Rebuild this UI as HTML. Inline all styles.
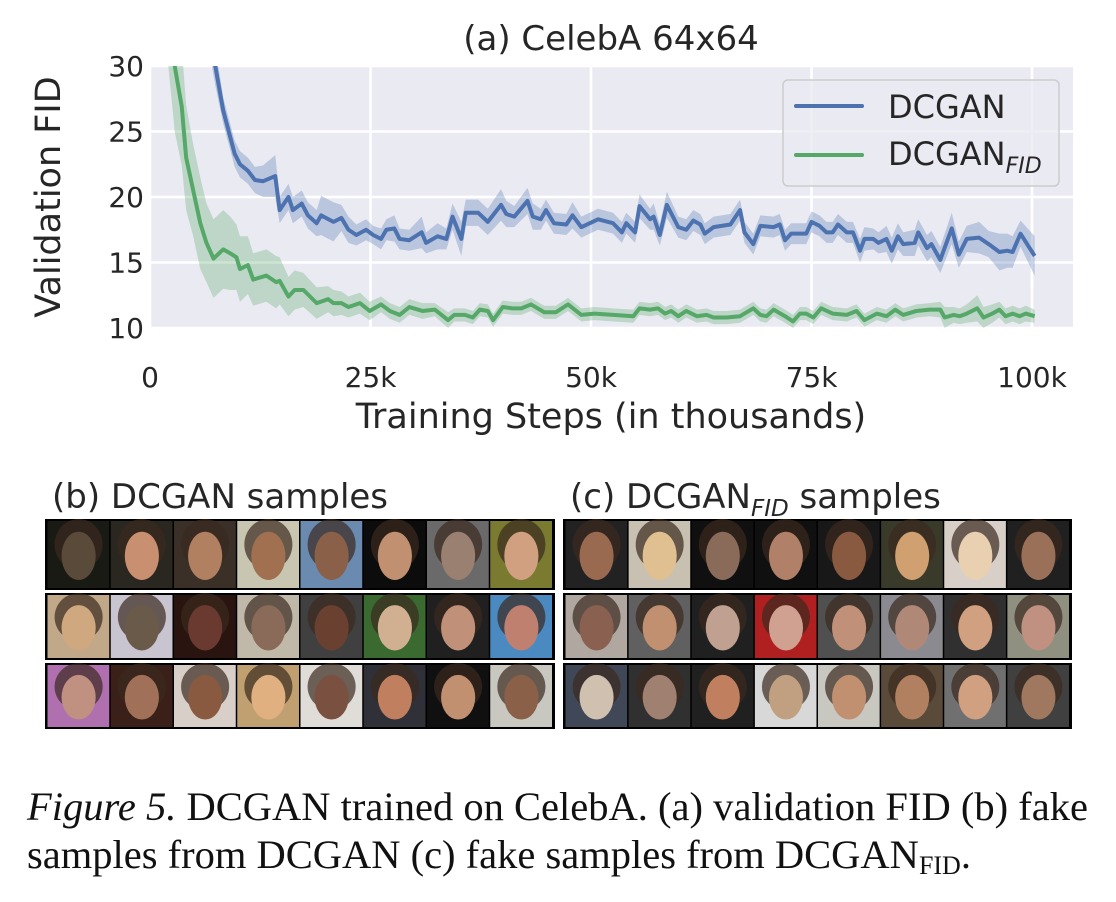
<!DOCTYPE html>
<html><head><meta charset="utf-8"><style>
body{margin:0;background:#fff;}
svg{display:block;font-family:"DejaVu Sans","Liberation Sans",sans-serif;}
</style></head><body>
<svg id="fig" width="1116" height="902" viewBox="0 0 1116 902">
<defs><clipPath id="pc"><rect x="150" y="66" width="923" height="262"/></clipPath></defs>
<text x="611" y="50" font-size="34" text-anchor="middle" fill="#262626">(a) CelebA 64x64</text>
<rect x="150" y="66" width="923" height="262" fill="#EAEAF2"/>
<g id="grid"></g>
<g id="series" clip-path="url(#pc)"></g>
<g id="ticks"></g>
<text transform="translate(60,197) rotate(-90)" font-size="35" text-anchor="middle" fill="#262626">Validation FID</text>
<text x="611" y="428" font-size="35" text-anchor="middle" fill="#262626">Training Steps (in thousands)</text>
<g>
<rect x="783" y="80" width="276" height="106" rx="5" fill="#EAEAF2" fill-opacity="0.8" stroke="#cccccc" stroke-width="1.5"/>
<line x1="796" y1="106" x2="862" y2="106" stroke="#4C72B0" stroke-width="4" stroke-linecap="round"/>
<text x="888" y="118" font-size="32" fill="#262626">DCGAN</text>
<line x1="796" y1="155" x2="862" y2="155" stroke="#55A868" stroke-width="4" stroke-linecap="round"/>
<text x="888" y="165" font-size="32" fill="#262626">DCGAN<tspan font-size="22" font-style="italic" dy="8">FID</tspan></text>
</g>
<text x="52" y="508" font-size="34" fill="#262626">(b) DCGAN samples</text>
<text x="570" y="508" font-size="34" fill="#262626">(c) DCGAN<tspan font-size="23" font-style="italic" dy="8">FID</tspan><tspan dy="-8"> samples</tspan></text>
<g id="samples"></g>
<text x="27" y="820" font-family="Liberation Serif, serif" font-size="40.5" fill="#111" textLength="1061"><tspan font-style="italic">Figure 5.</tspan> DCGAN trained on CelebA. (a) validation FID (b) fake</text>
<text x="27" y="868" font-family="Liberation Serif, serif" font-size="40.5" fill="#111">samples from DCGAN (c) fake samples from DCGAN<tspan font-size="26" dy="6">FID</tspan><tspan dy="-6">.</tspan></text>
</svg>
<script>
const blueSteps=[5,6,7.4,8.3,9.6,10.2,11.1,11.9,12.8,14.2,14.7,15.7,16.2,17.2,17.9,18.9,19.4,20.8,21.7,22.5,23.4,24.5,25.3,26.2,26.8,27.7,28.3,29.4,30.8,31.3,32.6,33.6,34.3,35.3,35.8,37.2,38.3,39.8,40.4,41.3,42.8,43.4,44.3,44.9,45.8,47.2,47.9,48.9,50.8,52.5,53.5,54,55,55.5,56.7,57.1,57.8,58.6,59.9,60.8,61.6,62.4,62.9,63.9,65.8,66.9,67.4,68.4,69.2,70.7,71.4,72,72.7,74.4,75,75.9,76.7,77.4,78,79,79.7,80.5,81,82,82.6,83.5,84.1,84.8,85.4,86.7,87.1,88.1,88.6,89.6,90.9,91.7,92.6,94,95.1,96.3,97.2,97.8,98.7,100.3];
const blueFID=[45,36,30,26.6,23.3,22.5,22,21.3,21.2,21.6,19,20,19,19.5,18.6,18,18.6,18.1,18.4,17.5,17.1,17.5,17.1,16.8,17.5,17.6,16.8,16.7,17.3,16.5,17,16.8,18.5,16.8,18.8,18.8,18.1,19.4,18.7,18.5,19.7,18.5,18.3,19,18,17.9,18.6,17.7,18.3,18,17.3,18,17.3,19.3,18.3,18.5,17.1,19.4,17.7,17.5,18.2,17.9,17.2,17.7,17.9,19,17.3,16.4,17.8,17.7,17.9,16.7,17.2,17.2,18.1,17.8,17.3,17.3,17.9,17.3,17.3,15.9,16.8,16.8,16.5,16.8,15.9,17,16.4,16.5,17.3,16.1,16.4,15.2,17.6,15.6,16.8,16.9,16.4,15.8,15.9,15.8,17.2,15.5];
const blueSpread=[3,2,1.5,1,1,1,1,1,1.2,1.6,1,1,1,1,1,1,1.5,1.5,1,1,0.8,0.8,0.7,0.8,0.8,1,0.8,0.8,1.2,0.8,1,0.8,1,1.3,1,1,1,1.2,1,0.8,1,1,0.8,0.8,0.8,0.8,1,0.8,0.8,0.8,0.8,0.8,0.8,0.9,0.8,1,0.8,1,0.8,0.8,0.8,0.8,0.8,0.8,0.8,0.8,0.8,0.8,0.8,0.8,0.8,0.8,0.8,0.8,0.8,0.8,0.8,0.8,0.8,0.8,0.8,0.9,0.9,0.8,0.8,1,1,1,0.9,1,1,1,1,1,1.2,1,1,1.2,1,1.4,1.3,1.2,1,1.5];
const greenSteps=[0,1.5,2.8,3.6,4.1,4.9,5.7,6.4,7.2,8.3,9.1,9.8,10.2,11.1,11.7,13.2,14.3,14.7,15.7,16.4,17.4,18.9,20.2,20.8,21.7,22.5,23.8,24.9,26.2,27.2,28.3,29.4,30.9,32.3,33.8,34.5,35.7,36.6,37.4,38.3,38.9,40,41.1,42.1,43.2,44.7,46,47.4,48.9,50.4,52.5,54.8,55.5,56.7,57.6,58.4,59.1,59.9,60.8,62,63.1,63.9,65.4,66.9,68.4,69.2,69.9,70.7,72,72.9,73.7,74.4,75.2,76.1,77.4,79,80.1,81,82.4,83.5,84.5,85.4,86.9,88.4,89.6,90.1,91.1,91.8,92.6,93.8,94.5,95.5,96.3,97,97.8,98.6,99.3,100.3];
const greenFID=[60,40,30,26.9,23,20.5,18,16.5,15.3,16,15.7,15.4,14.5,14.8,13.7,14,13.5,13.6,12.4,12.9,12.9,11.9,12.2,11.9,11.9,11.6,11.9,11.3,11.8,11.3,11,11.6,11.3,11.4,10.6,11,11,10.8,11.4,11.3,10.6,11.6,11.5,11.5,11.8,11.2,11.2,11.8,11,11.1,11,10.9,11.5,11.4,11.5,11.1,11.3,10.9,11.3,10.9,11,10.8,10.8,10.9,11.5,11,10.9,11.4,10.9,10.5,11.1,11.1,10.8,11.5,11.1,11,11.3,10.6,11.1,10.9,11.4,11,11.3,11.4,11.4,10.8,11,10.9,11.1,11.5,10.8,11.1,11.4,10.9,11.1,10.9,11.1,10.9];
const greenSpread=[10,6,5,4.5,4,3.5,3.5,3,3,3,2.8,2.5,2.5,2.2,2,2,2,1.8,1.5,1.5,1.3,1.2,1,1,0.9,0.8,0.8,0.7,0.6,0.6,0.6,0.6,0.6,0.5,0.6,0.5,0.5,0.5,0.5,0.5,0.5,0.5,0.5,0.5,0.5,0.5,0.5,0.5,0.5,0.5,0.5,0.5,0.5,0.5,0.5,0.5,0.5,0.5,0.5,0.5,0.5,0.5,0.5,0.5,0.5,0.5,0.5,0.5,0.5,0.5,0.5,0.5,0.5,0.5,0.5,0.5,0.5,0.5,0.5,0.5,0.5,0.5,0.5,0.5,0.6,0.8,0.6,0.6,0.7,1,0.8,0.7,0.6,0.6,0.6,0.6,0.6,0.5];
const yTicks=[10,15,20,25,30];
const xTicks=[0,25,50,75,100];
const xTickLabels=["0","25k","50k","75k","100k"];

const NS="http://www.w3.org/2000/svg";
const X=k=>150+k*8.82;
const Y=v=>328-(v-10)*13.1;
function mk(tag,attrs,parent){const e=document.createElementNS(NS,tag);for(const k in attrs)e.setAttribute(k,attrs[k]);parent.appendChild(e);return e;}
const grid=document.getElementById('grid'),ticks=document.getElementById('ticks'),ser=document.getElementById('series');
yTicks.forEach(v=>{
  const l=mk('line',{x1:150,x2:1073,y1:Y(v),y2:Y(v),stroke:'#fff','stroke-width':2.5},grid);
  
  
  const t=mk('text',{x:144,y:Y(v)+10,'font-size':28,'text-anchor':'end',fill:'#262626'},ticks);
  t.textContent=v;
  
  
});
xTicks.forEach((k,i)=>{
  const l=mk('line',{x1:X(k),x2:X(k),y1:66,y2:328,stroke:'#fff','stroke-width':2.5},grid);
  
  
  const t=mk('text',{x:X(k),y:387,'font-size':28,'text-anchor':'middle',fill:'#262626'},ticks);
  t.textContent=xTickLabels[i];
  
  
});
function drawSeries(steps,vals,spread,color,name){
  let up=steps.map((s,i)=>X(s)+','+Y(vals[i]+spread[i]));
  let lo=steps.map((s,i)=>X(s)+','+Y(vals[i]-spread[i])).reverse();
  const b=mk('polygon',{points:up.concat(lo).join(' '),fill:color,'fill-opacity':0.3,stroke:'none'},ser);
  
  
  const p=mk('polyline',{points:steps.map((s,i)=>X(s)+','+Y(vals[i])).join(' '),fill:'none',stroke:color,'stroke-width':4,'stroke-linejoin':'round'},ser);
  
  
}
drawSeries(greenSteps,greenFID,greenSpread,'#55A868','dcgan-fid');
drawSeries(blueSteps,blueFID,blueSpread,'#4C72B0','dcgan');

const tileBg=[["#1a1a14","#2a2620","#3a3028","#c8c6b0","#6a8ab0","#0c0c0c","#6a6a6a","#7a7a30"],
["#c0a888","#c8c4d0","#2a1410","#c0b8a8","#404040","#3a6a30","#202020","#4a8ac0"],
["#b070b0","#3a2018","#d8d0c8","#c0a070","#e0dcd8","#303038","#101010","#c8c8c0"],
["#222","#c8c0b0","#101010","#101010","#181818","#3a3a2a","#d8d0c8","#202020"],
["#b0a8a0","#606060","#202020","#b02020","#505050","#8a8a90","#303030","#909080"],
["#404858","#303030","#202020","#d8d8d8","#c8c8c0","#5a4a3a","#707070","#404040"]];
const tileFace=[["#5a4a3a","#c89070","#b08060","#a07050","#8a6048","#c09070","#9a8070","#d0a080"],
["#d0a880","#6a5a4a","#6a3a30","#8a6a58","#6a4030","#d0b090","#c09078","#c08070"],
["#c09080","#a07058","#8a5a40","#e0b080","#7a5040","#c08060","#c09070","#8a6048"],
["#9a6a50","#e0c090","#8a6a58","#b08068","#8a5a40","#d0a070","#e8d0b0","#9a7058"],
["#8a6050","#c09070","#c0a090","#d0a090","#c09078","#b08878","#d0a080","#c09080"],
["#d0c0b0","#a08070","#c08060","#c0a080","#c09070","#b08060","#d0a080","#a07860"]];
const sg=document.getElementById('samples');
const strips=[[45,555],[563,1072]];
const rowsY=[[519,590],[593,660],[663,729]];
strips.forEach((st,gi)=>{
  rowsY.forEach((ry,ri)=>{
    const r=mk('rect',{x:st[0],y:ry[0],width:st[1]-st[0],height:ry[1]-ry[0],fill:'#000'},sg);
    
    
    const w=(st[1]-st[0]-4)/8;
    for(let c=0;c<8;c++){
      const tx=st[0]+2+c*w, ty=ry[0]+2, th=ry[1]-ry[0]-4;
      const bg=tileBg[gi*3+ri][c], fc=tileFace[gi*3+ri][c];
      const t=mk('rect',{x:tx+0.5,y:ty,width:w-1.5,height:th,fill:bg},sg);
      
      
      mk('ellipse',{cx:tx+w/2,cy:ty+th*0.35,rx:w*0.38,ry:th*0.38,fill:'#3a2a20','fill-opacity':0.7},sg);
      mk('ellipse',{cx:tx+w/2,cy:ty+th*0.52,rx:w*0.27,ry:th*0.36,fill:fc},sg);
    }
  });
});
</script>
</body></html>
